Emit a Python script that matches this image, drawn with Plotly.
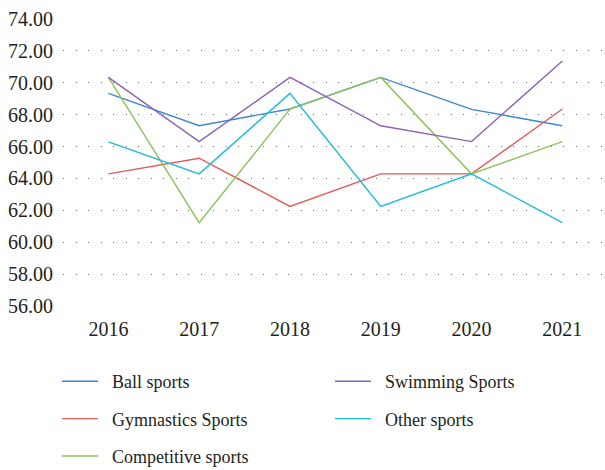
import plotly.graph_objects as go

years = ['2016', '2017', '2018', '2019', '2020', '2021']

ball = [69.33, 67.30, 68.35, 70.33, 68.33, 67.30]
gymnastics = [64.29, 65.27, 62.25, 64.29, 64.29, 68.35]
competitive = [70.33, 61.23, 68.35, 70.33, 64.29, 66.31]
swimming = [70.33, 66.31, 70.33, 67.30, 66.31, 71.36]
other = [66.29, 64.29, 69.33, 62.25, 64.29, 61.23]

W, H = 605, 470
font_fam = 'Liberation Serif, Times New Roman, serif'
txt_col = '#231f20'
pad = '\u2002'  # widen the gap between legend line and label

fig = go.Figure()

# left column of the legend: legend, right column: legend2
series = [
    ('Ball sports', ball, '#3d87cc', 'legend'),
    ('Gymnastics Sports', gymnastics, '#e05a58', 'legend'),
    ('Competitive sports', competitive, '#8cc35c', 'legend'),
    ('Swimming Sports', swimming, '#8a63b5', 'legend2'),
    ('Other sports', other, '#1ebcd8', 'legend2'),
]
for name, vals, col, leg in series:
    fig.add_trace(go.Scatter(
        x=years, y=vals,
        mode='lines',
        name=pad + name,
        line=dict(width=1.4, color=col),
        legend=leg,
        legendgroup=name,
    ))

fig.update_xaxes(
    type='category',
    range=[-0.5, 5.47],
    showgrid=False, showline=False, zeroline=False,
    ticks='', ticklabelstandoff=8,
    tickfont=dict(family=font_fam, size=20, color=txt_col),
)
fig.update_yaxes(
    range=[55.95, 74.05],
    dtick=2, tick0=56,
    tickformat='.2f',
    showgrid=True, gridcolor='#6e6e6e', gridwidth=1, griddash='1px,11.5px',
    showline=False, zeroline=False,
    ticks='', ticklabelstandoff=9,
    tickfont=dict(family=font_fam, size=20, color=txt_col),
)

leg_common = dict(
    xref='container', yref='container',
    xanchor='left', yanchor='top',
    orientation='v',
    font=dict(family=font_fam, size=18, color=txt_col),
    bgcolor='rgba(0,0,0,0)',
    tracegroupgap=11,
    itemwidth=36,
)
fig.update_layout(
    width=W, height=H,
    margin=dict(l=63, r=0, t=18, b=163, autoexpand=False),
    plot_bgcolor='white', paper_bgcolor='white',
    showlegend=True,
    legend=dict(x=57 / W, y=1 - 363 / H, **leg_common),
    legend2=dict(x=330 / W, y=1 - 363 / H, **leg_common),
)

# page has a default body margin; drop it so the chart sits at 0,0
fig.write_html('out.html', config={'displayModeBar': False},
               post_script="document.body.style.margin='0';")
